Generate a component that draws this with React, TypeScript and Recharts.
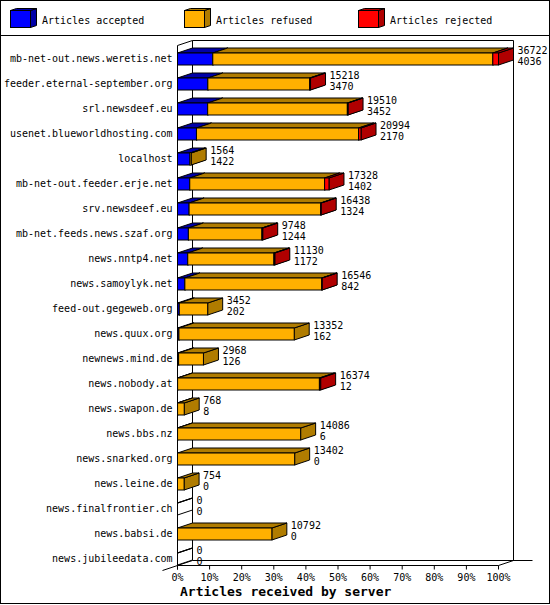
import React from 'react';
import { BarChart, Bar, XAxis, YAxis, LabelList } from 'recharts';

// ---- data ----
const SERVERS = [
  'mb-net-out.news.weretis.net',
  'feeder.eternal-september.org',
  'srl.newsdeef.eu',
  'usenet.blueworldhosting.com',
  'localhost',
  'mb-net-out.feeder.erje.net',
  'srv.newsdeef.eu',
  'mb-net.feeds.news.szaf.org',
  'news.nntp4.net',
  'news.samoylyk.net',
  'feed-out.gegeweb.org',
  'news.quux.org',
  'newnews.mind.de',
  'news.nobody.at',
  'news.swapon.de',
  'news.bbs.nz',
  'news.snarked.org',
  'news.leine.de',
  'news.finalfrontier.ch',
  'news.babsi.de',
  'news.jubileedata.com',
];
const OFFERED = [36722, 15218, 19510, 20994, 1564, 17328, 16438, 9748, 11130, 16546, 3452, 13352, 2968, 16374, 768, 14086, 13402, 754, 0, 10792, 0];
const ACCEPTED = [4036, 3470, 3452, 2170, 1422, 1402, 1324, 1244, 1172, 842, 202, 162, 126, 12, 8, 6, 0, 0, 0, 0, 0];
const REJECTED = [650, 100, 80, 280, 0, 500, 60, 90, 100, 50, 0, 0, 0, 140, 0, 0, 0, 0, 0, 0, 0];
const X_TICKS = [0, 10, 20, 30, 40, 50, 60, 70, 80, 90, 100];
const LEGEND_NAMES = ['Articles accepted', 'Articles refused', 'Articles rejected'];
const X_TITLE = 'Articles received by server';

// ---- series styles ----
const SERIES = [
  { key: 'acc', front: '#0000ff', dark: '#0000a8' },
  { key: 'ref', front: '#ffb000', dark: '#b07c00' },
  { key: 'rej', front: '#ff0000', dark: '#b00000' },
];

const MAX = Math.max(...OFFERED);
const rows = SERVERS.map((name, i) => ({
  name,
  offered: OFFERED[i],
  accepted: ACCEPTED[i],
  acc: (ACCEPTED[i] / MAX) * 100,
  ref: ((OFFERED[i] - ACCEPTED[i] - REJECTED[i]) / MAX) * 100,
  rej: (REJECTED[i] / MAX) * 100,
}));

// ---- geometry ----
const W = 550;
const H = 605;
const FONT = 'DejaVu Sans Mono, monospace';
const DX = 15;
const DY = 5;
const PL = 177.5; // plot left (0%)
const PR = 498.5; // 100%
const FLOOR = 565.5;
const TOP = 40.5;

function box(x: number, y: number, w: number, h: number, front: string, dark: string) {
  const top = `${x},${y} ${x + w},${y} ${x + w + DX},${y - DY} ${x + DX},${y - DY}`;
  const side = `${x + w},${y} ${x + w + DX},${y - DY} ${x + w + DX},${y + h - DY} ${x + w},${y + h}`;
  return (
    <g>
      <polygon points={side} fill={dark} stroke="#000" strokeWidth={1} />
      <polygon points={top} fill={dark} stroke="#000" strokeWidth={1} />
      {w > 0 && <rect x={x} y={y} width={w} height={h} fill={front} stroke="#000" strokeWidth={1} />}
    </g>
  );
}

const makeShape = (si: number) => (props: any) => {
  const { x, y, width, height, payload } = props;
  const s = SERIES[si];
  if (width > 0.001) return box(x, y, width, height, s.front, s.dark);
  if (si === SERIES.length - 1 && payload && payload.offered === 0) {
    return box(x, y, 0, height, 'none', 'none');
  }
  return <g />;
};

const valueLabel = (line: number) => (props: any) => {
  const { x, y, width, value } = props;
  const tx = x + (width || 0) + DX + 4;
  const ty = line === 0 ? y + 1 : y + 11.5;
  return (
    <text x={tx} y={ty} fontFamily={FONT} fontSize={10} fill="#000">
      {value}
    </text>
  );
};

const CatTick = (props: any) => (
  <text x={props.x} y={props.y + 3.5} textAnchor="end" fontFamily={FONT} fontSize={10} fill="#000">
    {props.payload.value}
  </text>
);

const PctTick = (props: any) => {
  const x = props.x;
  return (
    <g>
      <line x1={x} x2={x} y1={FLOOR} y2={FLOOR + 4} stroke="#000" />
      <text x={x} y={581} textAnchor="middle" fontFamily={FONT} fontSize={10} fill="#000">
        {props.payload.value}%
      </text>
    </g>
  );
};

function Backdrop() {
  const legendX = [10.5, 184.5, 358.5];
  return (
    <svg width={W} height={H} style={{ position: 'absolute', left: 0, top: 0 }}>
      <rect x={0} y={0} width={W} height={H} fill="#fff" />
      <rect x={0.5} y={0.5} width={549} height={603} fill="none" stroke="#000" />
      <line x1={0} x2={W} y1={35.5} y2={35.5} stroke="#000" />
      {SERIES.map((s, i) => (
        <g key={s.key}>
          <polygon
            points={`${legendX[i] + 20},${10.5} ${legendX[i] + 26},${8.5} ${legendX[i] + 26},${25.5} ${legendX[i] + 20},${27.5}`}
            fill={s.dark}
            stroke="#000"
          />
          <polygon
            points={`${legendX[i]},${10.5} ${legendX[i] + 6},${8.5} ${legendX[i] + 26},${8.5} ${legendX[i] + 20},${10.5}`}
            fill={s.dark}
            stroke="#000"
          />
          <rect x={legendX[i]} y={10.5} width={20} height={17} fill={s.front} stroke="#000" />
          <text x={legendX[i] + 31.5} y={23.5} fontFamily={FONT} fontSize={10} fill="#000">
            {LEGEND_NAMES[i]}
          </text>
        </g>
      ))}
      {/* walls */}
      <line x1={PL + DX} x2={PR + DX} y1={TOP} y2={TOP} stroke="#000" />
      <line x1={PL} y1={TOP + DY} x2={PL + DX} y2={TOP} stroke="#000" />
      <line x1={PL + DX} x2={PL + DX} y1={TOP} y2={FLOOR - DY} stroke="#000" />
      <line x1={PR + DX} x2={PR + DX} y1={TOP} y2={FLOOR - DY} stroke="#000" />
      <line x1={PL} x2={PL} y1={TOP + DY} y2={FLOOR + 4} stroke="#000" />
      {/* floor */}
      <line x1={PL + DX} x2={PR + DX + 19} y1={FLOOR - DY} y2={FLOOR - DY} stroke="#000" />
      <line x1={PL - DX} y1={FLOOR + DY} x2={PL + DX} y2={FLOOR - DY} stroke="#000" />
      <line x1={PL} x2={PR} y1={FLOOR} y2={FLOOR} stroke="#000" />
      <line x1={PR} y1={FLOOR} x2={PR + DX} y2={FLOOR - DY} stroke="#000" />
      <text x={180} y={596} fontFamily={FONT} fontSize={13} fontWeight="bold" fill="#000">
        {X_TITLE}
      </text>
    </svg>
  );
}

export default function App() {
  return (
    <div style={{ position: 'absolute', left: 0, top: 0, width: W, height: H, background: '#fff' }}>
      <Backdrop />
      <div style={{ position: 'absolute', left: 0, top: 0 }}>
        <BarChart
          width={W}
          height={H}
          data={rows}
          layout="vertical"
          margin={{ top: 46, right: W - PR, left: 0.5, bottom: 14 }}
        >
          <XAxis
            type="number"
            domain={[0, 100]}
            ticks={X_TICKS}
            interval={0}
            height={20}
            axisLine={false}
            tickLine={false}
            tickSize={0}
            tickMargin={0}
            tick={<PctTick />}
          />
          <YAxis
            type="category"
            dataKey="name"
            width={177}
            interval={0}
            axisLine={false}
            tickLine={false}
            tickSize={0}
            tickMargin={5}
            tick={<CatTick />}
          />
          {SERIES.map((s, si) => (
            <Bar
              key={s.key}
              dataKey={s.key}
              stackId="a"
              barSize={12}
              fill={s.front}
              isAnimationActive={false}
              shape={makeShape(si)}
            >
              {si === SERIES.length - 1 && <LabelList dataKey="offered" content={valueLabel(0)} />}
              {si === SERIES.length - 1 && <LabelList dataKey="accepted" content={valueLabel(1)} />}
            </Bar>
          ))}
        </BarChart>
      </div>
    </div>
  );
}
